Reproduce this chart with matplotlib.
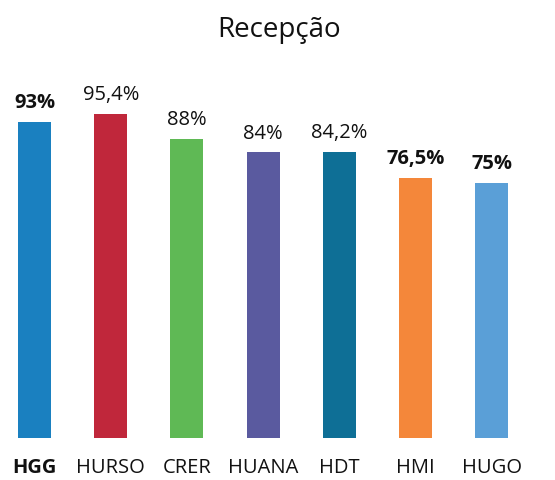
import matplotlib.pyplot as plt

# data
hospitals = ['HGG', 'HURSO', 'CRER', 'HUANA', 'HDT', 'HMI', 'HUGO']
values = [93, 95.4, 88, 84, 84.2, 76.5, 75]
value_labels = ['93%', '95,4%', '88%', '84%', '84,2%', '76,5%', '75%']
bold_values = [True, False, False, False, False, True, True]
bold_names = [True, False, False, False, False, False, False]
colors = ['#1a80c0', '#c0273b', '#5fb955', '#5a5a9f', '#0e6f96', '#f4873a', '#5a9fd7']

plt.rcParams['font.family'] = ['Open Sans', 'DejaVu Sans']

fig = plt.figure(figsize=(5.55, 4.81), dpi=100)
ax = fig.add_axes([0, 0.0873, 1, 0.705])

x = list(range(len(hospitals)))
bars = ax.bar(x, values, width=0.433, color=colors)

for b, lab, bold in zip(bars, value_labels, bold_values):
    ax.annotate(lab, (b.get_x() + b.get_width() / 2, b.get_height()),
                xytext=(0, 7), textcoords='offset points',
                ha='center', va='bottom', fontsize=14.5,
                fontweight='bold' if bold else 'normal', color='#111111')

ax.set_xlim(-0.453, 6.83)
ax.set_ylim(0, 99.7)
ax.set_xticks(x)
ax.set_xticklabels(hospitals, fontsize=14.5, color='#111111')
for t, bold in zip(ax.get_xticklabels(), bold_names):
    if bold:
        t.set_fontweight('bold')
ax.tick_params(axis='x', length=0, pad=14)
ax.set_yticks([])
for s in ax.spines.values():
    s.set_visible(False)

fig.text(0.503, 1 - 37 / 481, 'Recepção', ha='center', va='baseline',
         fontsize=20, color='#111111')

fig.savefig('out.png', dpi=100)
